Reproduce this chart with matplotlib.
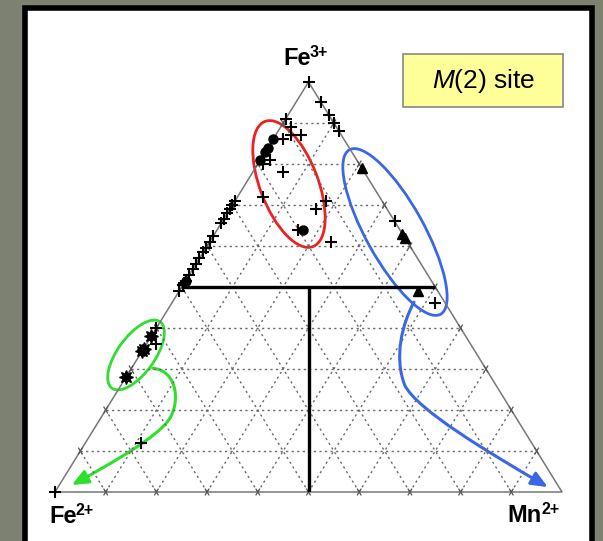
import matplotlib
matplotlib.use('Agg')
import matplotlib.pyplot as plt
from matplotlib.patches import Ellipse, Rectangle, FancyArrowPatch
from matplotlib.path import Path
from matplotlib.transforms import ScaledTranslation

plt.rcParams['font.family'] = ['Liberation Sans', 'DejaVu Sans']
plt.rcParams['mathtext.fontset'] = 'custom'
plt.rcParams['mathtext.rm'] = 'Liberation Sans'
plt.rcParams['mathtext.it'] = 'Liberation Sans:italic'

# site compositions in percent: Fe3+, Fe2+, Mn2+
cross_fe3 = [100, 95, 92, 90, 88, 91, 89, 87, 86, 87, 81, 80, 78, 72, 69, 71, 64, 61,
             71, 70, 69, 68, 66.5, 65.5, 62.5, 61, 59.5, 58.5, 57, 55.5, 54.5, 53, 51.5,
             51, 50.5, 49, 66, 46, 40, 36, 12, 0]
cross_fe2 = [0, 0, 0, 0, 0, 9, 9, 8, 12, 10, 17, 19, 16, 23, 14, 11, 20, 15,
             29, 30, 31, 32, 33.5, 34.5, 37.5, 39, 40.5, 41.5, 43, 44.5, 45.5, 47, 48.5,
             49, 49.5, 51, 0, 2, 60, 62, 77, 100]
cross_mn = [0, 5, 8, 10, 12, 0, 2, 5, 2, 3, 2, 1, 6, 5, 17, 18, 16, 24,
            0, 0, 0, 0, 0, 0, 0, 0, 0, 0, 0, 0, 0, 0, 0,
            0, 0, 0, 34, 52, 0, 2, 11, 0]

dot_fe3 = [86, 84, 83, 81, 64, 51.5]
dot_fe2 = [14, 16, 17, 19, 19, 48.5]
dot_mn = [0, 0, 0, 0, 17, 0]

tri_fe3 = [79, 63, 62, 49]
tri_fe2 = [0, 0, 0, 4]
tri_mn = [21, 37, 38, 47]

star_fe3 = [38, 35, 34.5, 28]
star_fe2 = [62, 65, 65.5, 72]
star_mn = [0, 0, 0, 0]

steps = [0.1 * k for k in range(1, 10)]


def tern(fe3, fe2, mn):
    # plane position: Mn2+ to the right, Fe3+ up
    tot = fe3 + fe2 + mn
    return (mn + fe3 / 2) / tot, fe3 / tot


def tern_list(a, b, c):
    pts = [tern(*p) for p in zip(a, b, c)]
    return [p[0] for p in pts], [p[1] for p in pts]


fig = plt.figure(figsize=(6.03, 5.41), dpi=100, facecolor='#7c8172')
W, H = 603.0, 541.0
fig.patches.append(Rectangle((25 / W, -0.02), 567 / W, (H - 7.5) / H + 0.02,
                             transform=fig.transFigure, facecolor='white',
                             edgecolor='black', lw=4, zorder=-5))

ax = fig.add_axes([55 / W, (H - 492) / H, 507 / W, 410 / H])
ax.set_zorder(2)
ax.set_xlim(0, 1)
ax.set_ylim(0, 1)
ax.axis('off')

# outline
ox, oy = zip(tern(0, 1, 0), tern(0, 0, 1), tern(1, 0, 0), tern(0, 1, 0))
ax.plot(ox, oy, color='#777777', lw=1.1, clip_on=False)

# dotted grid plus small crosses where it meets the edges
e = 0.007
for s in steps:
    segs = [((s, 1 - s, 0), (s, 0, 1 - s)),
            ((0, 1 - s, s), (1 - s, 0, s)),
            ((0, s, 1 - s), (1 - s, s, 0))]
    for p, q in segs:
        (x0, y0), (x1, y1) = tern(*p), tern(*q)
        ax.plot([x0, x1], [y0, y1], color='#6a6a6a', lw=1.0, ls=(0, (1.6, 2.4)), clip_on=False)
    ticks = [((s + e, 1 - s - e, 0), (s - e, 1 - s + e, 0)), ((s + e, 0, 1 - s - e), (s - e, 0, 1 - s + e)),
             ((e, 1 - s - e, s), (-e, 1 - s + e, s)), ((1 - s + e, -e, s), (1 - s - e, e, s)),
             ((e, s, 1 - s - e), (-e, s, 1 - s + e)), ((1 - s + e, s, -e), (1 - s - e, s, e))]
    for p, q in ticks:
        (x0, y0), (x1, y1) = tern(*p), tern(*q)
        ax.plot([x0, x1], [y0, y1], color='#555555', lw=0.9, clip_on=False)

# field boundaries
bx, by = zip(tern(0.5, 0.5, 0), tern(0.5, 0, 0.5))
ax.plot(bx, by, color='black', lw=2.4, solid_capstyle='butt')
vx, vy = zip(tern(0.5, 0.25, 0.25), tern(0, 0.5, 0.5))
ax.plot(vx, vy, color='black', lw=2.4, solid_capstyle='butt')

# analyses
x, y = tern_list(cross_fe3, cross_fe2, cross_mn)
ax.plot(x, y, '+', color='black', ms=8, mew=1.5, clip_on=False)
x, y = tern_list(dot_fe3, dot_fe2, dot_mn)
ax.plot(x, y, 'o', color='black', ms=6.5, clip_on=False)
x, y = tern_list(tri_fe3, tri_fe2, tri_mn)
ax.plot(x, y, '^', color='black', ms=7, clip_on=False)
x, y = tern_list(star_fe3, star_fe2, star_mn)
ax.plot(x, y, marker=(8, 1, 0), ls='none', color='black', ms=10, clip_on=False)


def ring(cx, cy, w, h, ang, color):
    tr = fig.dpi_scale_trans + ScaledTranslation(cx, cy, ax.transData)
    ax.add_patch(Ellipse((0, 0), w / 100, h / 100, angle=ang, transform=tr,
                         fill=False, ec=color, lw=2.0, clip_on=False))


red, blue, green = '#ee2020', '#3a66e8', '#2ee02e'
ring(0.4615, 0.7512, 134, 58, -69, red)
ring(0.6706, 0.6341, 188, 58, -61, blue)
ring(0.1598, 0.3341, 82, 37, 54, green)

C4 = Path.CURVE4
green_path = Path([(0.193, 0.302), (0.245, 0.295), (0.247, 0.21), (0.222, 0.172),
                   (0.20, 0.135), (0.12, 0.075), (0.033, 0.017)],
                  [Path.MOVETO, C4, C4, C4, C4, C4, C4])
blue_path = Path([(0.708, 0.463), (0.685, 0.41), (0.668, 0.33), (0.69, 0.26),
                  (0.715, 0.2), (0.85, 0.10), (0.972, 0.012)],
                 [Path.MOVETO, C4, C4, C4, C4, C4, C4])
for pth, col in [(green_path, green), (blue_path, blue)]:
    ax.add_patch(FancyArrowPatch(path=pth, arrowstyle='-|>,head_length=0.7,head_width=0.3',
                                 mutation_scale=14, color=col, lw=2.2,
                                 transform=ax.transData, clip_on=False))


def corner(name, charge, corner_pt, dx, dy):
    # element symbol ends at dx, charge follows as a raised smaller label
    kw = dict(xycoords='data', textcoords='offset pixels', fontweight='bold',
              va='baseline', annotation_clip=False)
    ax.annotate(name, corner_pt, xytext=(dx, dy), ha='right', fontsize=17, **kw)
    ax.annotate(charge, corner_pt, xytext=(dx - 1, dy + 8), ha='left', fontsize=11.5, **kw)


corner('Fe', '3+', tern(1, 0, 0), 2, 17)
corner('Fe', '2+', tern(0, 1, 0), 22, -31)
corner('Mn', '2+', tern(0, 0, 1), -20, -30)

# site box
fig.patches.append(Rectangle((403 / W, (H - 107) / H), 160 / W, 53 / H,
                             transform=fig.transFigure, facecolor='#ffff99',
                             edgecolor='#888888', lw=1.2, zorder=1))
fig.text(484 / W, (H - 81) / H, r'$\mathit{M}$(2) site', fontsize=19,
         ha='center', va='center')

fig.savefig('out.png', dpi=100, facecolor=fig.get_facecolor())
